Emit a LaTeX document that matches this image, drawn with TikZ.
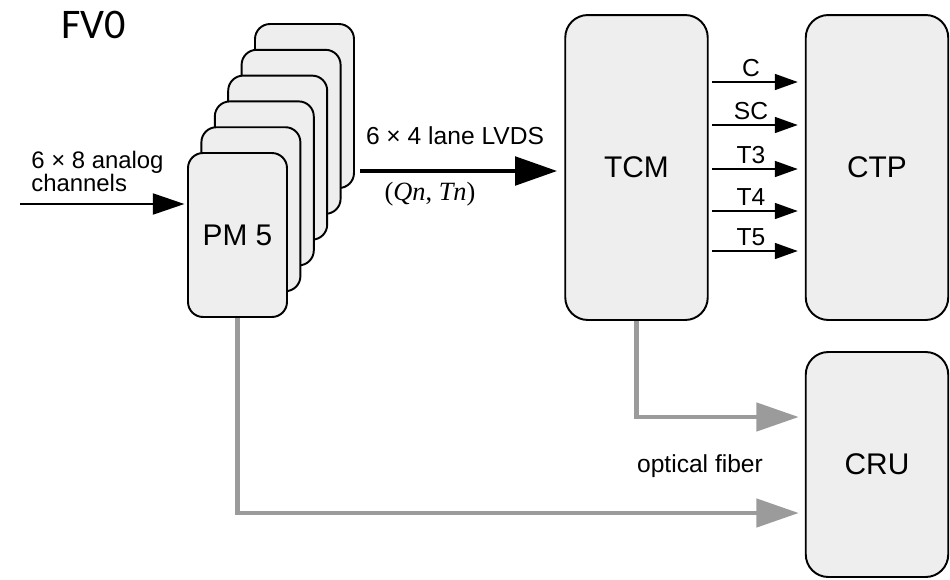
\documentclass[tikz,border=0pt]{standalone}
\usepackage{fontspec}
\setmainfont{Liberation Sans}
\newfontfamily\titlefont{Carlito}
\newfontfamily\serifit{Liberation Serif}
\usetikzlibrary{arrows.meta}
\definecolor{boxfill}{HTML}{EEEEEE}
\definecolor{fibergray}{HTML}{9B9B9B}

\begin{document}
\begin{tikzpicture}[x=0.02cm,y=-0.02cm,
  blk/.style={draw=black, line width=1.1pt, fill=boxfill, inner sep=0pt,
              font=\fontsize{17}{20}\selectfont},
  pmbox/.style={blk, rounded corners=0.3cm, minimum width=1.98cm, minimum height=3.28cm},
  bigbox/.style={blk, rounded corners=0.45cm, minimum width=2.85cm},
  sig/.style={line width=1.1pt, -{Triangle[length=13pt,width=9pt]}},
  fiber/.style={draw=fibergray, line width=2.3pt,
                -{Triangle[length=24pt,width=16pt]}},
  lbl/.style={font=\fontsize{14}{16}\selectfont, inner sep=0pt}
]
\useasboundingbox (0,0) rectangle (950,579);

% title
\node[font=\titlefont\fontsize{24}{26}\selectfont, anchor=base west, inner sep=0pt]
  (title) at (61,38) {FV0};

% stack of PM boards, drawn from the back to the front
\node[pmbox] (pm6) at (304.5,106) {};
\node[pmbox] (pm5) at (291.1,131.8) {};
\node[pmbox] (pm4) at (277.7,157.6) {};
\node[pmbox] (pm3) at (264.3,183.4) {};
\node[pmbox] (pm2) at (250.9,209.2) {};
\node[pmbox] (pm)  at (237.5,235) {PM 5};

% trigger and readout units
\node[bigbox, minimum height=6.1cm] (tcm) at (636.5,167.5) {TCM};
\node[bigbox, minimum height=6.1cm] (ctp) at (877,167.5) {CTP};
\node[bigbox, minimum height=4.5cm] (cru) at (877,464.5) {CRU};

% analog input
\coordinate (inL) at (20,204);
\draw[line width=1.1pt, -{Triangle[length=18pt,width=12pt]}, shorten >=1.5pt]
  (inL) -- (pm.west |- inL);
\node[lbl, anchor=north west, align=left, font=\fontsize{13.6}{13}\selectfont]
  (inlbl) at (31,151) {6 × 8 analog\\channels};

% LVDS link from the PM stack to the TCM
\coordinate (lv) at (0,171);
\draw[line width=2.8pt, -{Triangle[length=24pt,width=16pt]}, shorten >=4pt, shorten <=3pt]
  (pm6.east |- lv) -- (tcm.west |- lv);
\node[lbl, anchor=base, font=\fontsize{14}{16}\selectfont] (lvds) at (455,144) {6 × 4 lane LVDS};
\node[lbl, anchor=base, font=\serifit\fontsize{15}{17}\selectfont] (qt) at (430,200)
  {(\textit{Qn}, \textit{Tn})};

% trigger signals TCM -> CTP
\foreach \name/\yy in {C/82, SC/125, T3/169, T4/211, T5/251}{
  \coordinate (y\name) at (0,\yy);
  \draw[sig, shorten <=2pt, shorten >=4pt] (tcm.east |- y\name) -- (ctp.west |- y\name)
    node[lbl, pos=0.44, above=2.5pt] {\name};
}

% optical fibers to the CRU
\coordinate (f1) at (0,417);
\coordinate (f2) at (0,513);
\draw[fiber, shorten >=3.5pt] (tcm.south) |- (cru.west |- f1);
\draw[fiber, shorten >=3.5pt] (pm.south) |- (cru.west |- f2);
\node[lbl] (optlbl) at (700,466) {optical fiber};

\end{tikzpicture}
\end{document}
